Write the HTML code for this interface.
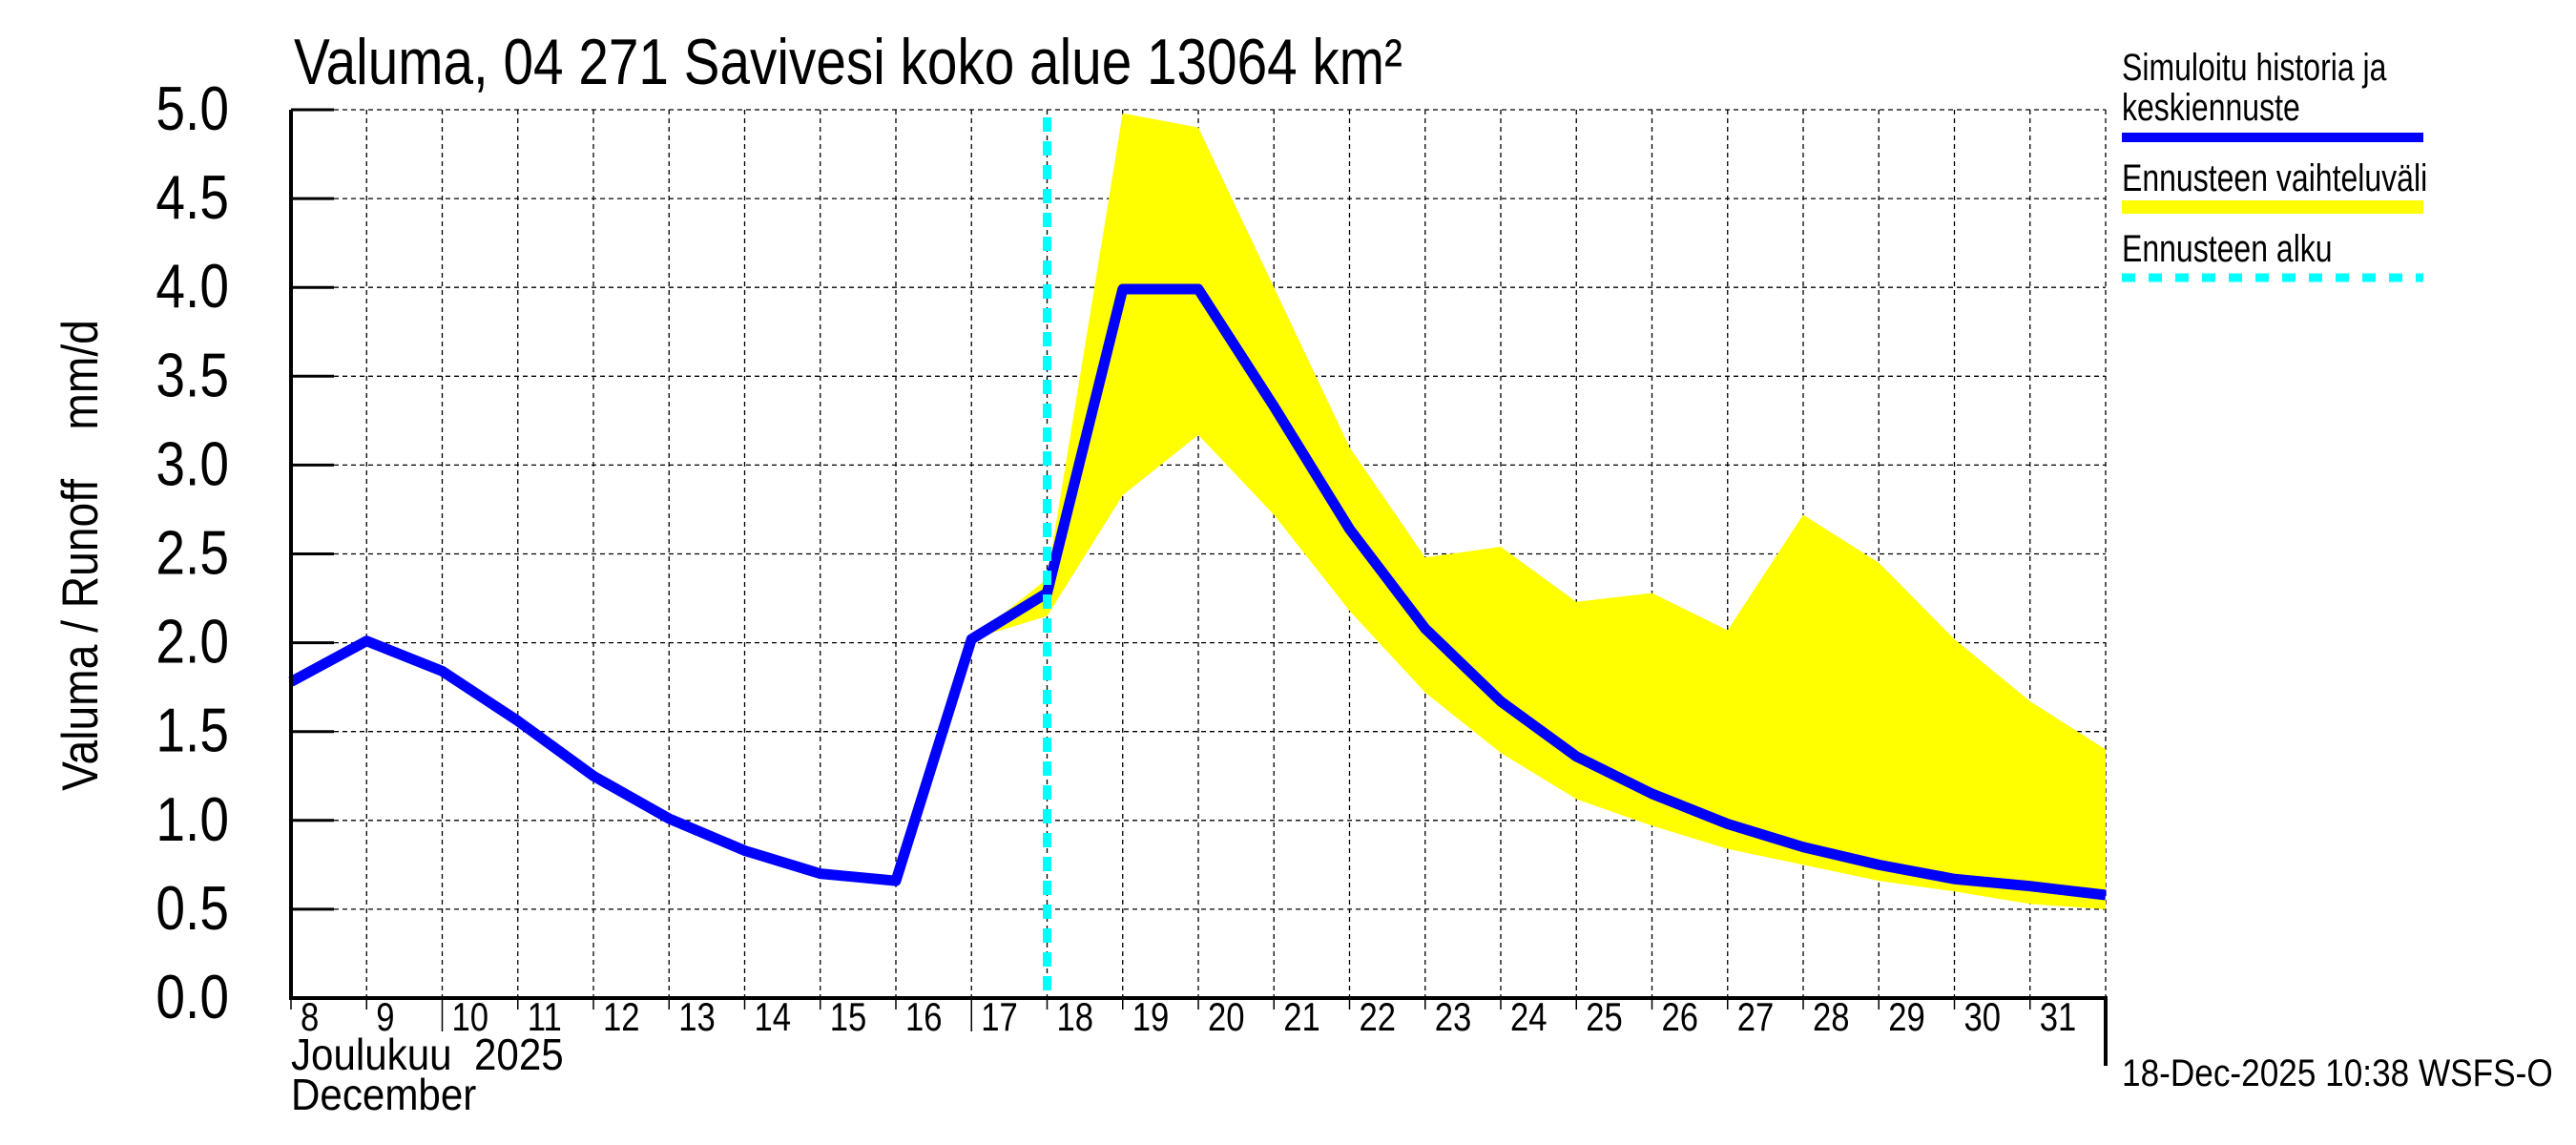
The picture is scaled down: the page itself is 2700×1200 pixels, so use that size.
<!DOCTYPE html>
<html><head><meta charset="utf-8"><style>
html,body{margin:0;padding:0;background:#fff;}
svg{display:block;font-family:"Liberation Sans",Arial,sans-serif;}
text{white-space:pre;}
</style></head><body>
<svg id="chart" width="2700" height="1200" viewBox="0 0 2700 1200" xmlns="http://www.w3.org/2000/svg" xml:space="preserve">
<text transform="translate(308,88) scale(1.05,1.25)" font-size="54">Valuma, 04 271 Savivesi koko alue 13064 km²</text>
<text transform="translate(102,582) rotate(-90) scale(1.1,1.25)" text-anchor="middle" font-size="42">Valuma / Runoff    mm/d</text>
<g id="grid"></g>
<g id="band"></g>
<g id="line"></g>
<g id="axes"></g>
<g id="ticks"></g>
<text transform="translate(305,1121) scale(1.08,1.2)" font-size="39">Joulukuu  2025</text>
<text transform="translate(305,1163) scale(1.08,1.2)" font-size="39">December</text>
<g>
<text transform="translate(2224,84) scale(1,1.25)" font-size="32">Simuloitu historia ja</text>
<text transform="translate(2224,126) scale(1,1.25)" font-size="32">keskiennuste</text>
<line x1="2224" y1="144" x2="2540" y2="144" stroke="#0000ff" stroke-width="10"/>
<text transform="translate(2224,200) scale(1,1.25)" font-size="32">Ennusteen vaihteluväli</text>
<line x1="2224" y1="217" x2="2540" y2="217" stroke="#ffff00" stroke-width="14"/>
<text transform="translate(2224,274) scale(1,1.25)" font-size="32">Ennusteen alku</text>
<line x1="2224" y1="291" x2="2540" y2="291" stroke="#00ffff" stroke-width="9" stroke-dasharray="14,14"/>
</g>
<text transform="translate(2224,1138) scale(1.1,1.25)" font-size="32">18-Dec-2025 10:38 WSFS-O</text>
</svg>
<script>
const days = [8,9,10,11,12,13,14,15,16,17,18,19,20,21,22,23,24,25,26,27,28,29,30,31,32];
const runoff = [1.78,2.01,1.84,1.56,1.25,1.01,0.83,0.70,0.66,2.02,2.28,3.99,3.99,3.33,2.64,2.08,1.67,1.36,1.15,0.98,0.85,0.75,0.67,0.63,0.58];
const bandDays = [17,18,19,20,21,22,23,24,25,26,27,28,29,30,31,32];
const bandUpper = [2.02,2.36,4.98,4.90,4.00,3.10,2.48,2.54,2.23,2.28,2.07,2.72,2.45,2.02,1.67,1.40];
const bandLower = [2.02,2.15,2.83,3.17,2.72,2.18,1.72,1.38,1.12,0.97,0.84,0.75,0.66,0.60,0.53,0.50];
const yTicks = ["0.0","0.5","1.0","1.5","2.0","2.5","3.0","3.5","4.0","4.5","5.0"];
const xTickLabels = ["8","9","10","11","12","13","14","15","16","17","18","19","20","21","22","23","24","25","26","27","28","29","30","31"];
const forecastStart = 18;

const NS="http://www.w3.org/2000/svg";
const L=305,R=2207,T=115,B=1046,D0=8,D1=32,YMAX=5;
const xs=d=>L+(d-D0)/(D1-D0)*(R-L);
const ys=v=>B-v/YMAX*(B-T);
function mk(tag,attrs,parent){const e=document.createElementNS(NS,tag);for(const k in attrs)e.setAttribute(k,attrs[k]);parent.appendChild(e);return e;}
const grid=document.getElementById('grid'),band=document.getElementById('band'),line=document.getElementById('line'),axes=document.getElementById('axes'),ticks=document.getElementById('ticks');

yTicks.forEach(t=>{const v=parseFloat(t),y=ys(v);
 if(v>0){const g=mk('line',{x1:L,y1:y,x2:R,y2:y,stroke:'#000','stroke-width':1.3,'stroke-dasharray':'5,4'},grid);
 
 }
 const tk=mk('line',{x1:L,y1:y,x2:L+45,y2:y,stroke:'#000','stroke-width':3},ticks);
 
 
 const tx=mk('text',{transform:`translate(240,${y+21}) scale(1.02,1.2)`,'text-anchor':'end','font-size':54},ticks);tx.textContent=t;
 
 
});
for(let d=D0+1;d<=D1;d++){const x=xs(d);
 const g=mk('line',{x1:x,y1:T,x2:x,y2:B,stroke:'#000','stroke-width':1.3,'stroke-dasharray':'5,4'},grid);
 
 }
xTickLabels.forEach((t,i)=>{const d=D0+i,x=xs(d);
 const tk=mk('line',{x1:x,y1:B,x2:x,y2:(d===10||d===17)?1081:1058,stroke:'#000','stroke-width':1.5},ticks);
 
 
 const tx=mk('text',{transform:`translate(${x+10},1080) scale(1.05,1.25)`,'font-size':33},ticks);tx.textContent=t;
 
 
});
let pts=bandDays.map((d,i)=>xs(d)+','+ys(bandUpper[i]));
for(let i=bandDays.length-1;i>=0;i--)pts.push(xs(bandDays[i])+','+ys(bandLower[i]));
const poly=mk('polygon',{points:pts.join(' '),fill:'#ffff00'},band);


const pl=mk('polyline',{points:days.map((d,i)=>xs(d)+','+ys(runoff[i])).join(' '),fill:'none',stroke:'#0000ff','stroke-width':11,'stroke-linejoin':'round'},line);


const fx=xs(forecastStart);
const fl=mk('line',{x1:fx,y1:T+8,x2:fx,y2:B,stroke:'#00ffff','stroke-width':9,'stroke-dasharray':'15,10'},line);


const ax=mk('path',{d:`M${L},${T} V${B} H${R} V1117`,fill:'none',stroke:'#000','stroke-width':4},axes);


</script>
</body></html>
